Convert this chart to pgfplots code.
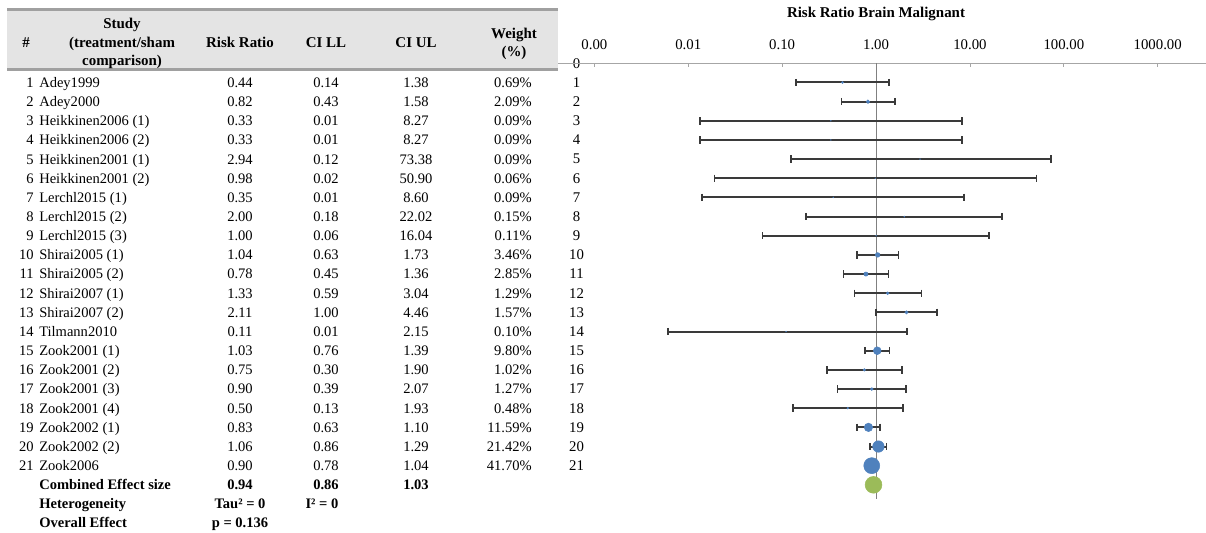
\documentclass[border=0pt]{standalone}
\usepackage{fontspec}
\setmainfont{Liberation Serif}
\usepackage{pgfplots}
\pgfplotsset{compat=1.18}
\definecolor{xlblue}{HTML}{4F81BD}
\definecolor{xlgreen}{HTML}{9BBB59}
\definecolor{bargray}{HTML}{3A3A3A}
\definecolor{hdrfill}{HTML}{E4E4E4}
\definecolor{hdrline}{HTML}{A0A0A0}
\definecolor{axgray}{HTML}{A6A6A6}
\definecolor{vgray}{HTML}{808080}
\pgfplotsset{ci/.style={bargray, line width=1.5pt, mark=|, mark size=2.8pt, mark options={solid, line width=1.2pt}}}
\begin{document}
\fontsize{10.9}{13}\selectfont
\begin{tikzpicture}
\begin{scope}[x=0.75pt,y=-0.75pt]
% ---------- table header ----------
\fill[hdrfill] (7,9.5) rectangle (558,69.5);
\draw[hdrline, line width=2.2pt] (7,9.5) -- (558,9.5);
\draw[hdrline, line width=2.2pt] (7,69.5) -- (558,69.5);
\begin{scope}[every node/.style={font=\fontsize{11.2}{12}\selectfont\bfseries, anchor=base, inner sep=0pt}]
\node at (26,47) {\#};
\node at (122,28) {Study};
\node at (122,47) {(treatment/sham};
\node at (122,65) {comparison)};
\node at (240,47) {Risk Ratio};
\node at (326,47) {CI LL};
\node at (416,47) {CI UL};
\node at (514,38) {Weight};
\node at (514,56) {(\%)};
\end{scope}
% ---------- table body ----------
\begin{scope}[every node/.style={inner sep=0pt}]
\foreach \i/\nm/\rr/\ll/\ul/\w in {
1/Adey1999/0.44/0.14/1.38/0.69,
2/Adey2000/0.82/0.43/1.58/2.09,
3/Heikkinen2006 (1)/0.33/0.01/8.27/0.09,
4/Heikkinen2006 (2)/0.33/0.01/8.27/0.09,
5/Heikkinen2001 (1)/2.94/0.12/73.38/0.09,
6/Heikkinen2001 (2)/0.98/0.02/50.90/0.06,
7/Lerchl2015 (1)/0.35/0.01/8.60/0.09,
8/Lerchl2015 (2)/2.00/0.18/22.02/0.15,
9/Lerchl2015 (3)/1.00/0.06/16.04/0.11,
10/Shirai2005 (1)/1.04/0.63/1.73/3.46,
11/Shirai2005 (2)/0.78/0.45/1.36/2.85,
12/Shirai2007 (1)/1.33/0.59/3.04/1.29,
13/Shirai2007 (2)/2.11/1.00/4.46/1.57,
14/Tilmann2010/0.11/0.01/2.15/0.10,
15/Zook2001 (1)/1.03/0.76/1.39/9.80,
16/Zook2001 (2)/0.75/0.30/1.90/1.02,
17/Zook2001 (3)/0.90/0.39/2.07/1.27,
18/Zook2001 (4)/0.50/0.13/1.93/0.48,
19/Zook2002 (1)/0.83/0.63/1.10/11.59,
20/Zook2002 (2)/1.06/0.86/1.29/21.42,
21/Zook2006/0.90/0.78/1.04/41.70}{
\node[anchor=base east] at (34,{68.3+19.15*\i}) {\i};
\node[anchor=base west] at (39,{68.3+19.15*\i}) {\nm};
\node[anchor=base] at (240,{68.3+19.15*\i}) {\rr};
\node[anchor=base] at (326,{68.3+19.15*\i}) {\ll};
\node[anchor=base] at (416,{68.3+19.15*\i}) {\ul};
\node[anchor=base east] at (532,{68.3+19.15*\i}) {\w\%};
}
\begin{scope}[every node/.append style={font=\bfseries}]
\node[anchor=base west] at (39,{68.3+19.15*22}) {Combined Effect size};
\node[anchor=base] at (240,{68.3+19.15*22}) {0.94};
\node[anchor=base] at (326,{68.3+19.15*22}) {0.86};
\node[anchor=base] at (416,{68.3+19.15*22}) {1.03};
\node[anchor=base west] at (39,{68.3+19.15*23}) {Heterogeneity};
\node[anchor=base] at (240,{68.3+19.15*23}) {Tau² = 0};
\node[anchor=base] at (322,{68.3+19.15*23}) {I² = 0};
\node[anchor=base west] at (39,{68.3+19.15*24}) {Overall Effect};
\node[anchor=base] at (240,{68.3+19.15*24}) {p = 0.136};
\end{scope}
\end{scope}
% ---------- title ----------
\node[font=\fontsize{11.2}{12}\selectfont\bfseries, inner sep=0pt] at (876,14) {Risk Ratio Brain Malignant};
\end{scope}
% ---------- forest plot ----------
\begin{axis}[
  at={(661.5pt,-210.94pt)}, anchor=center,
  scale only axis, width=486pt, height=326.9pt,
  xmode=log, log basis x=10,
  xmin=0.00041, xmax=3266,
  ymin=0, ymax=22.75, y dir=reverse,
  axis line style={draw=none},
  xtick={0.001,0.01,0.1,1,10,100,1000},
  xticklabels={0.00,0.01,0.10,1.00,10.00,100.00,1000.00},
  xtick pos=right, xticklabel pos=right,
  tick align=inside,
  major tick length=3pt,
  x tick style={axgray, line width=0.6pt},
  ytick={0,...,21},
  y tick style={draw=none},
  xticklabel style={anchor=center, yshift=13.7pt, inner sep=0pt},
  yticklabel style={anchor=center, xshift=13.9pt, inner sep=0pt},
  /pgf/number format/assume math mode=true,
  tick label style={font=\fontsize{11.1}{13}\selectfont},
  clip=false,
]
\addplot[axgray, line width=0.75pt] coordinates {(0.00041,0) (3266,0)};
\addplot[vgray, line width=0.75pt] coordinates {(1,0) (1,22.75)};
\addplot[ci] coordinates {(0.14,1) (1.38,1)};
\addplot[ci] coordinates {(0.43,2) (1.58,2)};
\addplot[ci] coordinates {(0.0133,3) (8.27,3)};
\addplot[ci] coordinates {(0.0133,4) (8.27,4)};
\addplot[ci] coordinates {(0.125,5) (73.38,5)};
\addplot[ci] coordinates {(0.019,6) (50.90,6)};
\addplot[ci] coordinates {(0.014,7) (8.60,7)};
\addplot[ci] coordinates {(0.18,8) (22.02,8)};
\addplot[ci] coordinates {(0.062,9) (16.04,9)};
\addplot[ci] coordinates {(0.63,10) (1.73,10)};
\addplot[ci] coordinates {(0.45,11) (1.36,11)};
\addplot[ci] coordinates {(0.59,12) (3.04,12)};
\addplot[ci] coordinates {(1.00,13) (4.46,13)};
\addplot[ci] coordinates {(0.0061,14) (2.15,14)};
\addplot[ci] coordinates {(0.76,15) (1.39,15)};
\addplot[ci] coordinates {(0.30,16) (1.90,16)};
\addplot[ci] coordinates {(0.39,17) (2.07,17)};
\addplot[ci] coordinates {(0.13,18) (1.93,18)};
\addplot[ci] coordinates {(0.63,19) (1.10,19)};
\addplot[ci] coordinates {(0.86,20) (1.29,20)};
\addplot[xlblue, scatter, only marks, mark=*, point meta=explicit,
  mark options={draw=none, fill=xlblue},
  scatter/use mapped color={draw=none, fill=xlblue},
  visualization depends on={\thisrow{s} \as \msize},
  scatter/@pre marker code/.append style={/tikz/mark size=\msize}]
  table[x=x, y=y, meta=s] {
x y s
0.44 1 0.77
0.82 2 1.34
0.33 3 0.28
0.33 4 0.28
2.94 5 0.28
0.98 6 0.23
0.35 7 0.28
2.00 8 0.36
1.00 9 0.31
1.04 10 1.73
0.78 11 1.57
1.33 12 1.06
2.11 13 1.17
0.11 14 0.30
1.03 15 2.91
0.75 16 0.94
0.90 17 1.05
0.50 18 0.64
0.83 19 3.17
1.06 20 4.30
0.90 21 6.00
};
\addplot[only marks, mark=*, mark size=6.3pt, color=xlgreen, mark options={draw=none, fill=xlgreen}] coordinates {(0.94,22)};
\end{axis}
\pgfresetboundingbox
\path[use as bounding box] (0,0) rectangle (904.5pt,-399pt);
\end{tikzpicture}
\end{document}
